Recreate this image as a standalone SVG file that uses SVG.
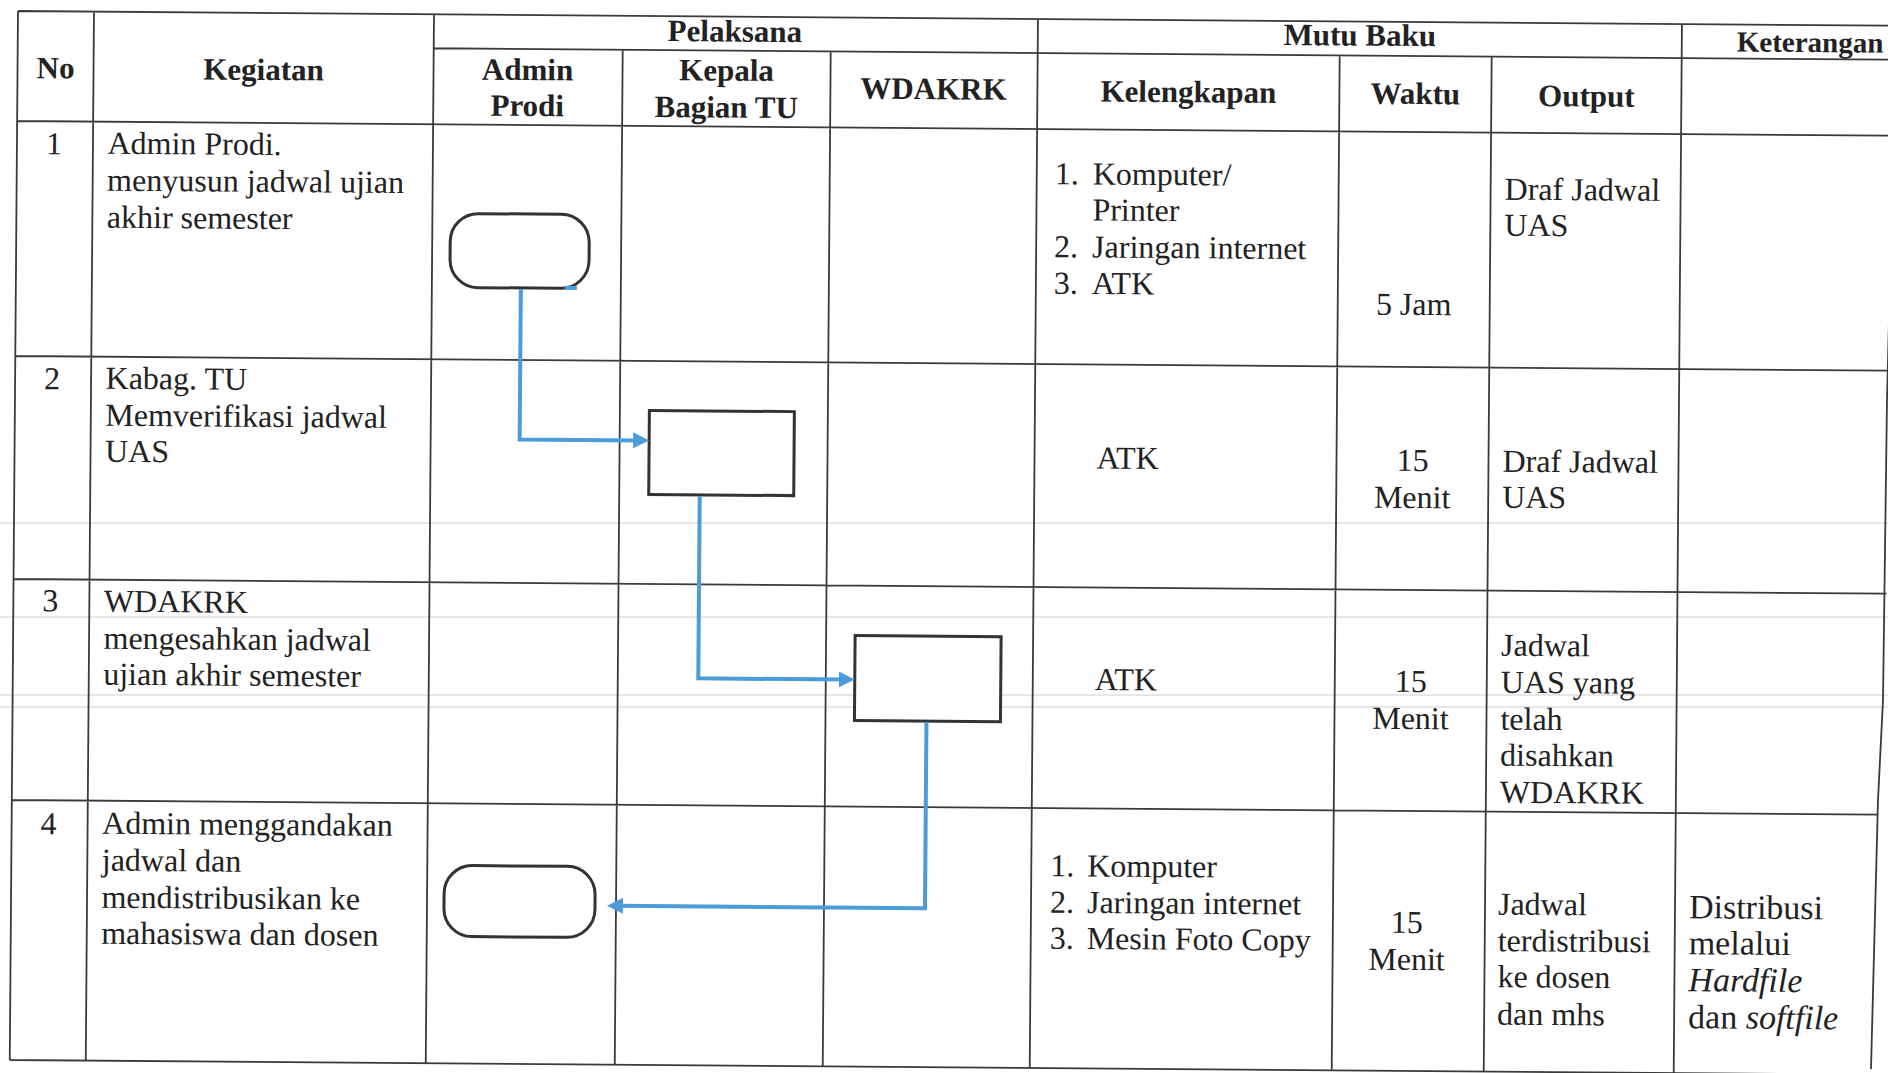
<svg xmlns="http://www.w3.org/2000/svg" width="1888" height="1073" viewBox="0 0 1888 1073">
<defs>
<style>
.grid{stroke:#3a3a3a;stroke-width:1.8;fill:none}
.scan{stroke:#e6e6e6;stroke-width:2}
.hd{font-family:"Liberation Serif","Times New Roman",serif;font-weight:bold;font-size:31px;fill:#222;text-anchor:middle}
.tx{font-family:"Liberation Serif","Times New Roman",serif;font-size:32px;fill:#222}
.c{text-anchor:middle}
.kt{font-family:"Liberation Serif","Times New Roman",serif;font-size:34px;fill:#222}
.shape{fill:#fff;stroke:#333;stroke-width:3}
.conn{fill:none;stroke:#4b9cd9;stroke-width:4}
</style>
<marker id="arr" markerUnits="userSpaceOnUse" markerWidth="18" markerHeight="18" refX="4" refY="8" orient="auto">
<path d="M0,0 L16,8 L0,16 z" fill="#4b9cd9"/>
</marker>
</defs>
<rect width="1888" height="1073" fill="#fff"/>
<g id="scan-marks">
<line class="scan" x1="0" y1="523" x2="1888" y2="523"/>
<line class="scan" x1="0" y1="617" x2="1888" y2="617"/>
<line class="scan" x1="0" y1="695" x2="1888" y2="695"/>
<line class="scan" x1="0" y1="707" x2="1888" y2="707"/>
</g>
<polyline id="right-border" class="grid" points="1892,200 1887,400 1883,700 1878,800 1871,1069"/>
<g transform="rotate(0.45 17 11)">
<g id="table">
<path class="grid" d="M18,11 H1900 M434,45 H1900 M18,121 H1900 M18,356 H1900 M18,579 H1891 M18,800 H1884 M18,1060 H1879
M18,11 V1060 M94,11 V1060 M434,11 V1060 M623,45 V1060 M831,45 V1060 M1038,11 V1060 M1340,45 V1060 M1492,45 V1060 M1682,11 V1060"/>
</g>
<g id="headers">
<text class="hd" x="56" y="78">No</text>
<text class="hd" x="264" y="78">Kegiatan</text>
<text class="hd" x="735" y="36">Pelaksana</text>
<text class="hd" x="528" y="76">Admin</text>
<text class="hd" x="528" y="112">Prodi</text>
<text class="hd" x="727" y="75">Kepala</text>
<text class="hd" x="727" y="112">Bagian TU</text>
<text class="hd" x="934" y="92">WDAKRK</text>
<text class="hd" x="1360" y="35">Mutu Baku</text>
<text class="hd" x="1189" y="93">Kelengkapan</text>
<text class="hd" x="1416" y="93">Waktu</text>
<text class="hd" x="1587" y="94">Output</text>
<text class="hd" x="1737" y="38" style="font-size:29px;text-anchor:start">Keterangan</text>
</g>
<g id="row1">
<text class="tx c" x="55" y="154">1</text>
<text class="tx" x="108.5" y="153">Admin Prodi.</text>
<text class="tx" x="108.5" y="190">menyusun jadwal ujian</text>
<text class="tx" x="108.5" y="227">akhir semester</text>
<text class="tx" x="1056" y="176">1.</text><text class="tx" x="1094" y="176">Komputer/</text>
<text class="tx" x="1094" y="212">Printer</text>
<text class="tx" x="1056" y="249">2.</text><text class="tx" x="1094" y="249">Jaringan internet</text>
<text class="tx" x="1056" y="285.5">3.</text><text class="tx" x="1094" y="285.5">ATK</text>
<text class="tx c" x="1416" y="304">5 Jam</text>
<text class="tx" x="1506" y="188">Draf Jadwal</text>
<text class="tx" x="1506" y="224">UAS</text>
</g>
<g id="row2">
<text class="tx c" x="55" y="389">2</text>
<text class="tx" x="108.5" y="388">Kabag. TU</text>
<text class="tx" x="108.5" y="425">Memverifikasi jadwal</text>
<text class="tx" x="108.5" y="461">UAS</text>
<text class="tx" x="1100" y="460">ATK</text>
<text class="tx c" x="1416" y="460">15</text>
<text class="tx c" x="1416" y="497">Menit</text>
<text class="tx" x="1506" y="460">Draf Jadwal</text>
<text class="tx" x="1506" y="496">UAS</text>
</g>
<g id="row3">
<text class="tx c" x="55" y="611">3</text>
<text class="tx" x="108.5" y="611">WDAKRK</text>
<text class="tx" x="108.5" y="648">mengesahkan jadwal</text>
<text class="tx" x="108.5" y="684">ujian akhir semester</text>
<text class="tx" x="1100" y="681.5">ATK</text>
<text class="tx c" x="1416" y="681">15</text>
<text class="tx c" x="1416" y="718">Menit</text>
<text class="tx" x="1506" y="644">Jadwal</text>
<text class="tx" x="1506" y="681">UAS yang</text>
<text class="tx" x="1506" y="718">telah</text>
<text class="tx" x="1506" y="754">disahkan</text>
<text class="tx" x="1506" y="791">WDAKRK</text>
</g>
<g id="row4">
<text class="tx c" x="55" y="834">4</text>
<text class="tx" x="108.5" y="833">Admin menggandakan</text>
<text class="tx" x="108.5" y="870">jadwal dan</text>
<text class="tx" x="108.5" y="907">mendistribusikan ke</text>
<text class="tx" x="108.5" y="943">mahasiswa dan dosen</text>
<text class="tx" x="1057" y="868">1.</text><text class="tx" x="1094" y="868">Komputer</text>
<text class="tx" x="1057" y="904.5">2.</text><text class="tx" x="1094" y="904.5">Jaringan internet</text>
<text class="tx" x="1057" y="940.5">3.</text><text class="tx" x="1094" y="940.5">Mesin Foto Copy</text>
<text class="tx c" x="1414" y="922">15</text>
<text class="tx c" x="1414" y="959">Menit</text>
<text class="tx" x="1505" y="903">Jadwal</text>
<text class="tx" x="1505" y="939.5">terdistribusi</text>
<text class="tx" x="1505" y="975.5">ke dosen</text>
<text class="tx" x="1505" y="1013">dan mhs</text>
<text class="kt" x="1696" y="905">Distribusi</text>
<text class="kt" x="1696" y="941">melalui</text>
<text class="kt" x="1696" y="978" font-style="italic">Hardfile</text>
<text class="kt" x="1696" y="1015">dan <tspan font-style="italic">softfile</tspan></text>
</g>
<g id="node-start">
<rect class="shape" x="452" y="210" width="139" height="74" rx="28" ry="28"/>
</g>
<g id="node-verify">
<rect class="shape" x="652.5" y="405.5" width="145" height="84"/>
</g>
<g id="node-approve">
<rect class="shape" x="860" y="629" width="146" height="85"/>
</g>
<g id="node-end">
<rect class="shape" x="451" y="862" width="151" height="71" rx="28" ry="28"/>
</g>
<g id="connectors">
<polyline class="conn" points="523,285 523,435.5 640.5,435.5" marker-end="url(#arr)"/>
<polyline class="conn" points="703.5,491 703.5,673 848,673" marker-end="url(#arr)"/>
<polyline class="conn" points="932,715 932,901 626,901" marker-end="url(#arr)"/>
<line class="conn" x1="567" y1="283.5" x2="579" y2="283.5"/>
</g>
</g>
</svg>
